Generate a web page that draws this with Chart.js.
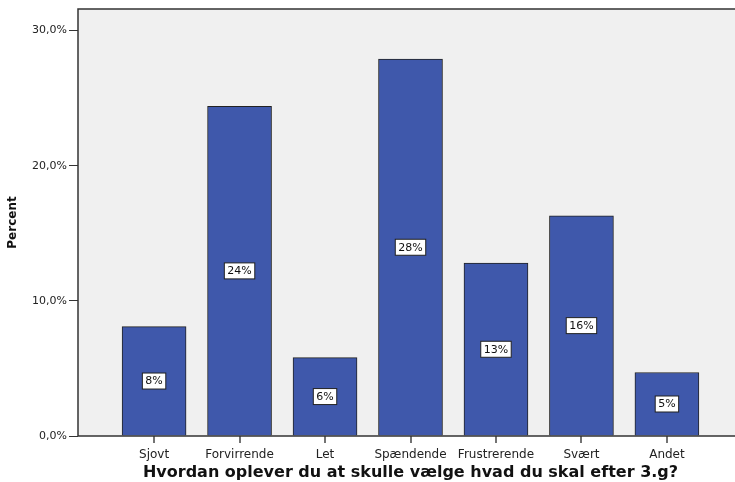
<!DOCTYPE html>
<html>
<head>
<meta charset="utf-8">
<script src="https://cdn.jsdelivr.net/npm/chart.js@4"></script>
<style>
  html, body { margin: 0; padding: 0; background: #fff; overflow: hidden; }
  #wrap { width: 745px; height: 482px; }
</style>
</head>
<body>
<div id="wrap"><canvas id="chart"></canvas></div>
<script>
const categories = ['Sjovt', 'Forvirrende', 'Let', 'Spændende', 'Frustrerende', 'Svært', 'Andet'];
const percents = [8.1, 24.4, 5.8, 27.9, 12.8, 16.3, 4.7];
const yTicks = [0, 10, 20, 30];

const FONT = '"DejaVu Sans", sans-serif';

// plot background, frame and the small category tick marks
const frame = {
  id: 'frame',
  beforeDraw(chart) {
    const { ctx, chartArea: a } = chart;
    ctx.save();
    ctx.fillStyle = '#f0f0f0';
    ctx.fillRect(a.left, a.top, a.right - a.left, a.bottom - a.top);
    ctx.restore();
  },
  afterDraw(chart) {
    const { ctx, chartArea: a } = chart;
    const xs = chart.scales.x;
    ctx.save();
    ctx.strokeStyle = '#444';
    ctx.lineWidth = 1.5;
    xs.ticks.forEach(t => {
      const px = Math.round(xs.getPixelForValue(t.value));
      ctx.beginPath();
      ctx.moveTo(px, a.bottom);
      ctx.lineTo(px, a.bottom + 7);
      ctx.stroke();
    });
    ctx.strokeStyle = '#333';
    ctx.strokeRect(a.left, a.top, a.right - a.left, a.bottom - a.top);
    ctx.restore();
  },
};

// boxed value labels in the middle of each bar
const boxLabels = {
  id: 'boxLabels',
  afterDatasetsDraw(chart) {
    const { ctx } = chart;
    const meta = chart.getDatasetMeta(0);
    ctx.save();
    ctx.font = '11px ' + FONT;
    ctx.textAlign = 'center';
    ctx.textBaseline = 'middle';
    meta.data.forEach((bar, i) => {
      const txt = Math.round(percents[i]) + '%';
      const mid = (bar.y + bar.base) / 2;
      const w = ctx.measureText(txt).width + 6;
      const h = 16;
      ctx.fillStyle = '#fff';
      ctx.fillRect(bar.x - w / 2, mid - h / 2, w, h);
      ctx.strokeStyle = '#222';
      ctx.lineWidth = 1;
      ctx.strokeRect(bar.x - w / 2, mid - h / 2, w, h);
      ctx.fillStyle = '#111';
      ctx.fillText(txt, bar.x, mid + 0.5);
    });
    ctx.restore();
  },
};

new Chart(document.getElementById('chart'), {
  type: 'bar',
  data: {
    datasets: [{
      data: percents.map((v, i) => ({ x: i, y: v })),
      backgroundColor: '#3f58ab',
      borderColor: '#222',
      borderWidth: 1,
      barThickness: 64,
    }],
  },
  plugins: [frame, boxLabels],
  options: {
    responsive: true,
    maintainAspectRatio: false,
    animation: false,
    layout: { padding: { top: 9, right: 2, left: 6 } },
    plugins: { legend: { display: false }, tooltip: { enabled: false } },
    scales: {
      x: {
        type: 'linear',
        min: -0.89,
        max: 6.89,
        offset: false,
        afterBuildTicks: s => { s.ticks = categories.map((_, i) => ({ value: i })); },
        afterFit: s => { s.height = 46; },
        grid: { display: false },
        border: { display: false },
        ticks: {
          callback: v => categories[v],
          color: '#222',
          font: { family: FONT, size: 12 },
          padding: 4,
          maxRotation: 0,
        },
        title: {
          display: true,
          text: 'Hvordan oplever du at skulle vælge hvad du skal efter 3.g?',
          color: '#111',
          font: { family: FONT, size: 16, weight: 'bold' },
          padding: { top: 1, bottom: 0 },
        },
      },
      y: {
        min: 0,
        max: 31.6,
        afterBuildTicks: s => { s.ticks = yTicks.map(v => ({ value: v })); },
        afterFit: s => { s.width = 72; },
        grid: { drawOnChartArea: false, tickLength: 9, color: '#333' },
        border: { display: false },
        ticks: {
          callback: v => v.toFixed(1).replace('.', ',') + '%',
          color: '#222',
          font: { family: FONT, size: 11 },
          padding: 2,
        },
        title: {
          display: true,
          text: 'Percent',
          color: '#111',
          font: { family: FONT, size: 12, weight: 'bold' },
          padding: { top: 0, bottom: 4 },
        },
      },
    },
  },
});
</script>
</body>
</html>
